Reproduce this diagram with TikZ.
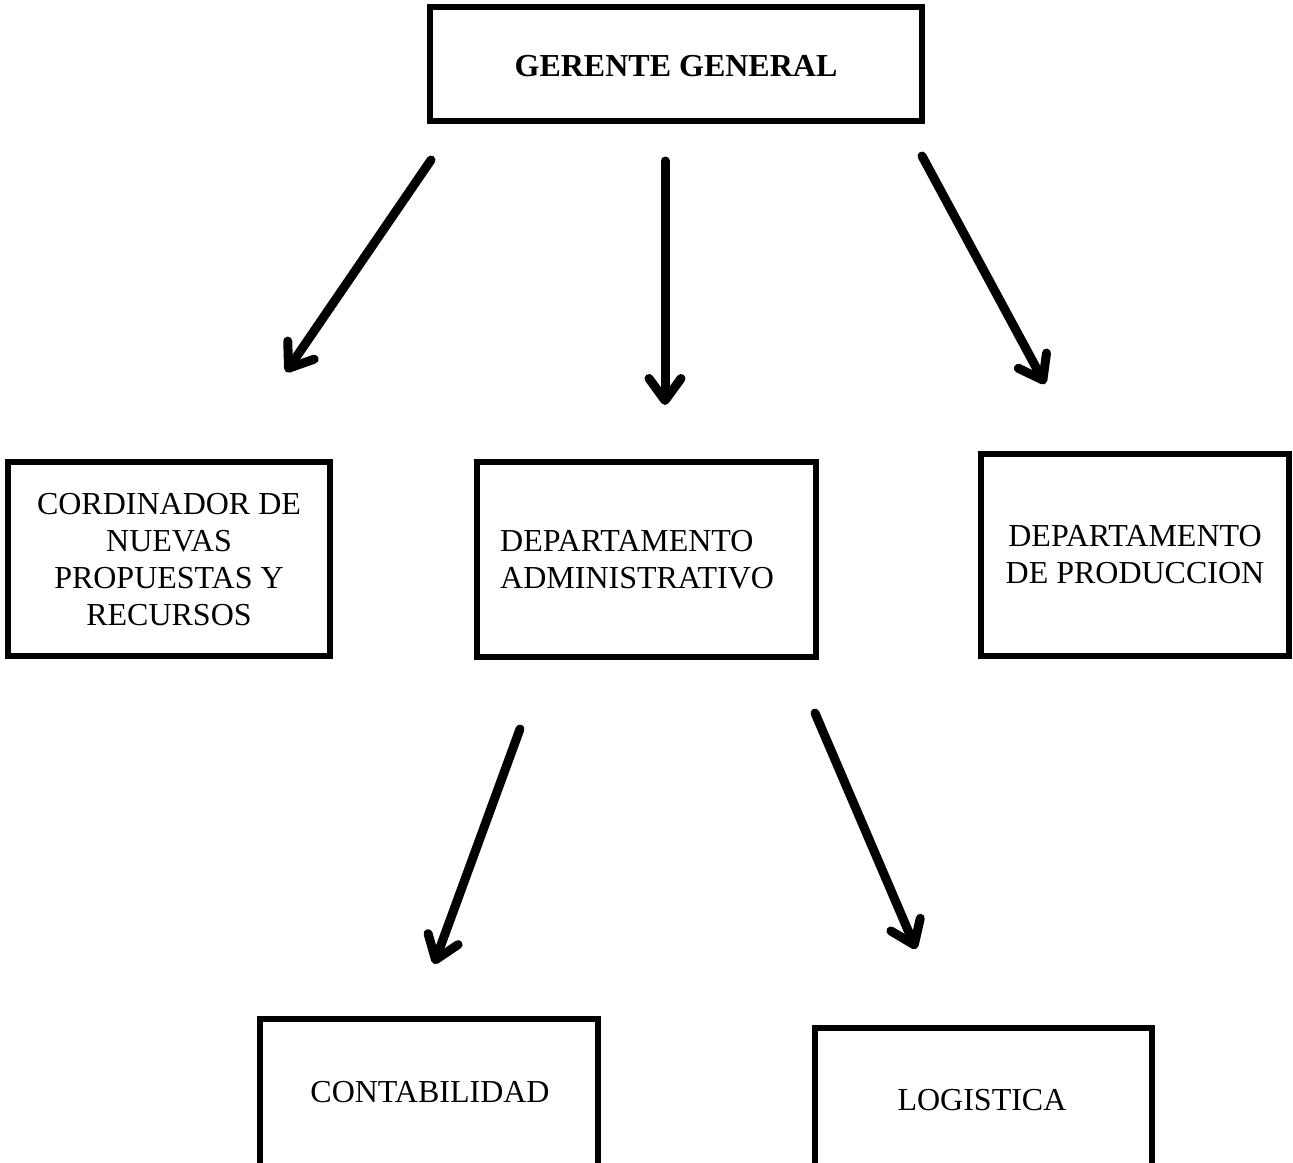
\documentclass[tikz,border=0pt]{standalone}
\usepackage{fontspec}
\setmainfont{Liberation Serif}
\usetikzlibrary{arrows.meta}
\tikzset{
  box/.style={draw=black, line width=5.5pt, rectangle, inner sep=0pt},
  lbl/.style={font=\fontsize{32}{37}\selectfont, align=center, inner sep=0pt},
  arr/.style={line width=9pt, line cap=round, -{Straight Barb[length=22pt,width=32pt,round]}},
}
\begin{document}
\begin{tikzpicture}[x=1pt,y=-1pt]
\useasboundingbox (0,0) rectangle (1293,1162);
\clip (0,0) rectangle (1293,1162);
\fill[white] (0,0) rectangle (1293,1162);
% boxes
\node[box, minimum width=492pt, minimum height=114pt] (gg) at (676,64) {};
\node[lbl, font=\fontsize{32}{37}\selectfont\bfseries] (ggt) at (676,66) {GERENTE GENERAL};
\node[box, minimum width=322pt, minimum height=194pt] (cn) at (169,559) {};
\node[lbl] (cnt) at (169,560) {CORDINADOR DE\\NUEVAS\\PROPUESTAS Y\\RECURSOS};
\node[box, minimum width=339pt, minimum height=195pt] (da) at (646.5,559.5) {};
\node[lbl, align=left, anchor=west] (dat) at (500,560) {DEPARTAMENTO\\ADMINISTRATIVO};
\node[box, minimum width=308pt, minimum height=202pt] (dp) at (1135,555) {};
\node[lbl] (dpt) at (1135,555) {DEPARTAMENTO\\DE PRODUCCION};
\node[box, minimum width=338pt, minimum height=200pt] (ct) at (429,1119) {};
\node[lbl] (ctt) at (430,1092) {CONTABILIDAD};
\node[box, minimum width=337pt, minimum height=200pt] (lg) at (983.5,1128) {};
\node[lbl] (lgt) at (982,1100) {LOGISTICA};
% arrow endpoints
\coordinate (a1s) at (431,160); \coordinate (a1e) at (286,372);
\coordinate (a2s) at (665,161); \coordinate (a2e) at (665,405);
\coordinate (a3s) at (922,156); \coordinate (a3e) at (1045,384);
\coordinate (a4s) at (520,729); \coordinate (a4e) at (434,964);
\coordinate (a5s) at (815,713); \coordinate (a5e) at (916,949);
\draw[arr] (a1s) -- (a1e);
\draw[arr] (a2s) -- (a2e);
\draw[arr] (a3s) -- (a3e);
\draw[arr] (a4s) -- (a4e);
\draw[arr] (a5s) -- (a5e);
\end{tikzpicture}
\end{document}
